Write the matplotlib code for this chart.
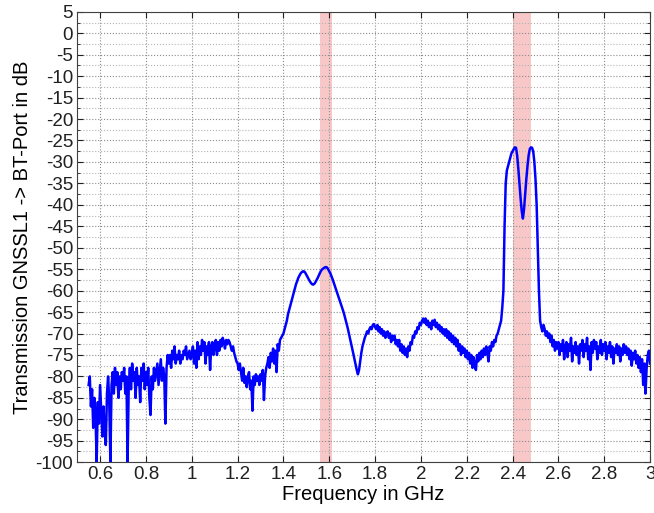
import numpy as np
import matplotlib
matplotlib.use("Agg")
import matplotlib.pyplot as plt
from matplotlib.ticker import MultipleLocator

plt.rcParams['font.family'] = ['Liberation Sans', 'DejaVu Sans']
plt.rcParams['axes.unicode_minus'] = False

# measured transmission, 0.55 .. 3.0 GHz, step 5 MHz
f_start = 0.55
f_step = 0.005
level = [
    -82, -80, -87, -83, -92, -85, -89, -100, -86, -91,                      # 0.55
    -82, -88, -94, -87, -93, -96, -84, -80, -86, -100, -82, -79, -84, -78, -82, -79, -85, -80, -83, -79,  # 0.6
    -81, -78, -84, -80, -100, -82, -78, -83, -77, -81, -79, -85, -78, -82, -80, -86, -78, -81, -77, -83,  # 0.7
    -79, -82, -78, -85, -89, -80, -83, -78, -81, -79, -77, -82, -79, -76, -81, -78, -80, -91, -78, -75,  # 0.8
    -77, -75, -78, -74, -76, -73, -77, -75, -76, -74, -77, -75, -76, -74, -75, -73, -76, -75, -74, -76,  # 0.9
    -75, -73, -77, -74, -78, -72, -76, -73, -75, -71.5, -74, -72, -77, -73, -75, -72, -78.5, -73, -72, -75,  # 1.0
    -73, -71.5, -75, -72, -74, -71.5, -73, -71, -72, -73.5, -71.5, -72.5, -71.5, -72, -73, -74, -73, -74.5, -75.5, -76.5,  # 1.1
    -77, -78.5, -77, -79, -81, -78, -81.5, -80, -82.5, -80, -79, -83, -81, -88, -80, -82, -79.5, -81, -80, -82,  # 1.2
    -79.5, -81, -78.5, -85.5, -80, -78, -77, -75.5, -78, -74.5, -76.5, -73.5, -77, -74, -79, -72.5, -74, -71.5, -71, -70.5,  # 1.3
    -70, -69, -68, -67, -65.5, -64.5, -63.5, -62.5, -61.5, -60.5, -59.5, -58.5, -57.8, -57, -56.5, -56, -55.7, -55.5, -55.5, -55.8,  # 1.4
    -56.3, -56.8, -57.3, -57.8, -58.2, -58.5, -58.6, -58.4, -58, -57.5, -57, -56.4, -55.8, -55.3, -55, -54.8, -54.6, -54.5, -54.6, -55,  # 1.5
    -55.5, -56, -56.7, -57.4, -58.2, -59, -59.8, -60.6, -61.4, -62.2, -63, -63.8, -64.6, -65.5, -66.5, -67.5, -68.6, -69.8, -71, -72.3,  # 1.6
    -73.5, -74.7, -76, -77.3, -78.5, -79.5, -78.5, -76.5, -74.5, -73, -72, -71, -70.3, -69.5, -70, -69, -68.5, -69, -68, -67.8,  # 1.7
    -68.5, -69, -68, -69.5, -68.5, -70, -69, -70.5, -69.5, -71, -70, -69.5, -71, -70, -72, -70.5, -71.5, -70.5, -72.5, -71.5,  # 1.8
    -73, -71.5, -74, -72.5, -74.5, -73, -75, -73.5, -75.5, -73, -74, -72, -72.5, -70.5, -71, -69.5, -70, -68.5, -69, -67.5,  # 1.9
    -68, -67, -66.5, -67.5, -66.5, -68, -67, -68.5, -67.5, -69, -67, -68, -66.8, -68.5, -67.5, -69, -68, -69.5, -68.5, -70,  # 2.0
    -69, -70.5, -69, -71, -69.5, -71.5, -70, -72, -70.5, -72.5, -71, -73, -71.5, -74, -72.5, -75, -73, -74.5, -73.5, -75.5,  # 2.1
    -74, -76, -74.5, -77, -75, -78, -75.5, -77.5, -78.5, -75, -76.5, -74.5, -76, -74, -75.5, -73.5, -75, -73, -74.5, -76.5,  # 2.2
    -73, -74, -72, -73, -71.5, -72, -70.5, -70, -69, -68, -67, -64, -60, -45, -35, -32, -31, -30, -29, -28,  # 2.3
    -27.5, -27, -26.6, -26.7, -28.5, -31.5, -35, -38.5, -41.5, -43.2, -41, -37.5, -34, -31, -28.5, -27, -26.6, -26.7, -27.5, -30,  # 2.4
    -34, -40, -50, -60, -67, -68.5, -69.5, -68, -69, -70.5, -69.5, -71, -70, -72, -70.5, -73, -71.5, -74, -72, -73.5,  # 2.5
    -72, -75, -72.5, -74, -71.5, -76, -73, -72, -75.5, -72.5, -74, -71, -76.5, -73, -74.5, -72, -75, -73, -77, -72.5,  # 2.6
    -74, -71.5, -75.5, -72.5, -74, -71, -76, -73, -78.5, -72, -74.5, -71.5, -73.5, -72, -76, -73, -74.5, -71.5, -75, -72.5,  # 2.7
    -74, -72, -76, -73, -74.5, -72, -75.5, -73, -77, -73.5, -74.5, -72.5, -75, -73, -76.5, -73.5, -75, -72.5, -74.5, -73,  # 2.8
    -75, -73.5, -76, -74, -77.5, -74.5, -76, -74, -77, -75, -78, -75.5, -79, -76, -82, -77, -84, -78, -75, -74,  # 2.9
    -77,  # 3.0
]
freq = f_start + f_step * np.arange(len(level))

# GNSS L1 and 2.4 GHz ISM band
bands = [(1.56, 1.61), (2.40, 2.48)]

xticks = [0.6, 0.8, 1.0, 1.2, 1.4, 1.6, 1.8, 2.0, 2.2, 2.4, 2.6, 2.8, 3.0]
xticklabels = ['0.6', '0.8', '1', '1.2', '1.4', '1.6', '1.8', '2', '2.2', '2.4', '2.6', '2.8', '3']
yticks = np.arange(-100, 6, 5)

fig = plt.figure(figsize=(6.54, 5.13), dpi=100)
ax = fig.add_axes([0.118, 0.099, 0.876, 0.878])

for lo, hi in bands:
    ax.axvspan(lo, hi, facecolor='#f29393', alpha=0.5, edgecolor='none', zorder=0.3)

ax.plot(freq, level, color='#0000ff', lw=1.8, zorder=3)

ax.set_xlim(0.5, 3.0)
ax.set_ylim(-100, 5)
ax.set_xticks(xticks)
ax.set_xticklabels(xticklabels)
ax.set_yticks(yticks)
ax.set_yticklabels([str(v) for v in yticks])
ax.yaxis.set_minor_locator(MultipleLocator(2.5))

ax.grid(True, which='major', color='#8c8c8c', linestyle=':', linewidth=0.8)
ax.grid(True, which='minor', axis='y', color='#b4b4b4', linestyle=':', linewidth=0.8)
ax.set_axisbelow(True)

ax.tick_params(which='both', direction='in', top=True, right=True,
               labelsize=13.5, colors='#202020', length=4, pad=3)
ax.tick_params(which='minor', length=2)
for s in ax.spines.values():
    s.set_color('#404040')
    s.set_linewidth(0.8)

ax.set_xlabel('Frequency in GHz', fontsize=14.5, labelpad=1)
ax.set_ylabel('Transmission GNSSL1 -> BT-Port in dB', fontsize=14.5, labelpad=2)

fig.savefig('out.png', dpi=100)
